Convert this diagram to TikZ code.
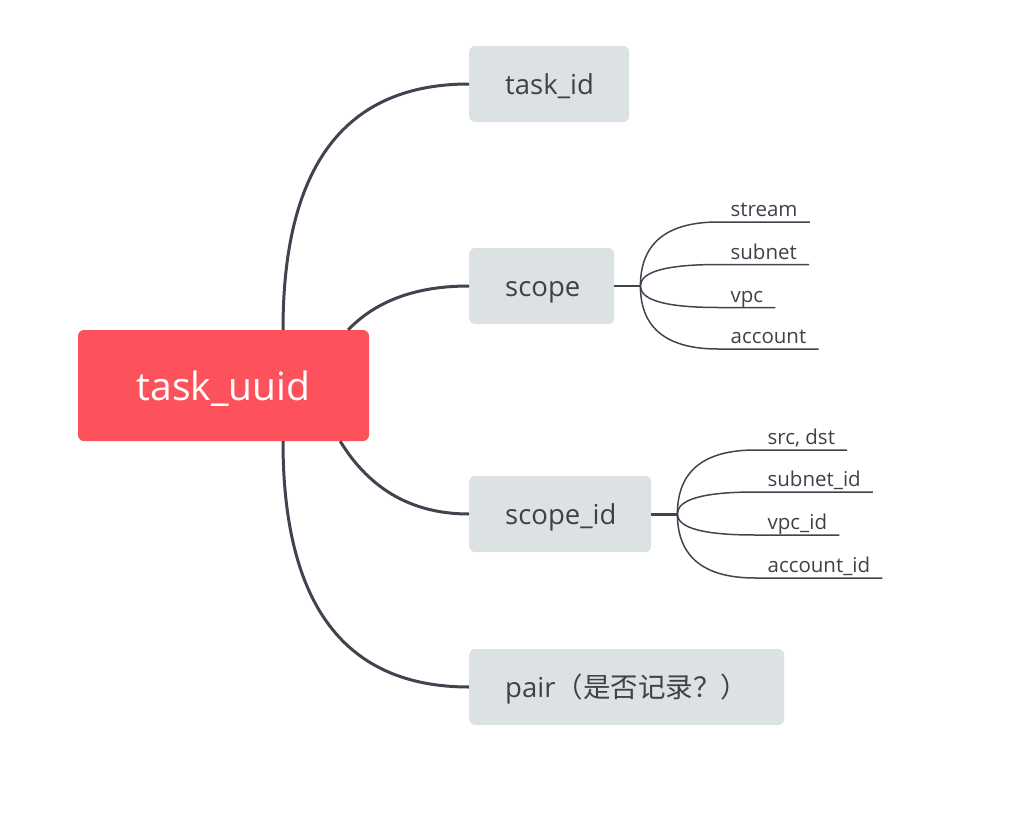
\documentclass[tikz,border=0pt]{standalone}
\usepackage{fontspec}
\setmainfont{Open Sans}
\newfontfamily\cjk{Noto Sans CJK SC}
\usepackage{tikz}
\usepackage{color}
\usetikzlibrary{positioning,calc}
\definecolor{rootred}{RGB}{253,82,91}
\definecolor{boxgray}{RGB}{220,225,227}
\definecolor{linegray}{RGB}{63,69,78}
\definecolor{textgray}{RGB}{62,66,70}

\begin{document}
\begin{tikzpicture}[x=1pt,y=-1pt,
  topic/.style={rectangle,rounded corners=6pt,fill=boxgray,text=textgray,inner xsep=36pt,minimum height=76pt,text height=20pt,text depth=0pt,align=left,font=\fontsize{27.5}{30}\selectfont,anchor=west},
  leaf/.style={inner xsep=12pt,inner ysep=5pt,text depth=0pt,text=textgray,font=\fontsize{20.5}{24}\selectfont},
  trunk/.style={draw=linegray,line width=3pt},
  twig/.style={draw=linegray,line width=1.5pt}]
  \useasboundingbox (0,0) rectangle (1026,838);
  %\draw[help lines] (0,0) grid[step=50] (1026,838);
  \node[rectangle,rounded corners=6pt,fill=rootred,text=white,minimum width=291pt,minimum height=111pt,text height=29pt,text depth=0pt,font=\fontsize{39}{42}\selectfont] (root) at (223.5,385.5) {task\_uuid};
  \node[topic,text width=88pt] (tid) at (469,84) {task\_id};
  \node[topic,text width=73pt] (scope) at (469,286) {scope};
  \node[topic,text width=110pt] (sid) at (469,514) {scope\_id};
  \node[topic,text width=243pt] (pair) at (469,687) {pair\cjk{（是否记录？）}};
  \coordinate (r1) at ([xshift=59.5pt]root.north);
  \coordinate (r2) at ([xshift=-21pt]root.north east);
  \coordinate (r3) at ([xshift=-29pt]root.south east);
  \coordinate (r4) at ([xshift=59.5pt]root.south);
  \draw[trunk] (r1) .. controls +(0,-164) and +(-124,0) .. (tid.west);
  \draw[trunk] (r2) .. controls +(28,-29) and +(-53,0) .. (scope.west);
  \draw[trunk] (r3) .. controls +(30,49) and +(-56,0) .. (sid.west);
  \draw[trunk] (r4) .. controls +(0,164) and +(-124,0) .. (pair.west);
  \coordinate[right=26pt of scope.east] (hubA);
  \coordinate[right=26pt of sid.east] (hubB);
  \draw[twig] (scope.east) -- (hubA);
  \draw[twig,line width=3pt] (sid.east) -- (hubB);
  \foreach \name/\txt/\dy in {stream/stream/-64, subnet/subnet/-21.5, vpc/vpc/21.5, account/account/63} {
    \node[leaf,anchor=south west] (\name) at ([shift={(78,\dy)}]hubA) {\txt};
    \draw[twig] (hubA) .. controls +(0,{2*\dy/3}) and +(-52,0) .. (\name.south west) -- (\name.south east);
  }
  \foreach \name/\txt/\dy in {src/{src, dst}/-64, subnetid/subnet\_id/-22, vpcid/vpc\_id/21, accountid/account\_id/64} {
    \node[leaf,anchor=south west] (\name) at ([shift={(78,\dy)}]hubB) {\txt};
    \draw[twig] (hubB) .. controls +(0,{2*\dy/3}) and +(-52,0) .. (\name.south west) -- (\name.south east);
  }
\end{tikzpicture}
\end{document}
